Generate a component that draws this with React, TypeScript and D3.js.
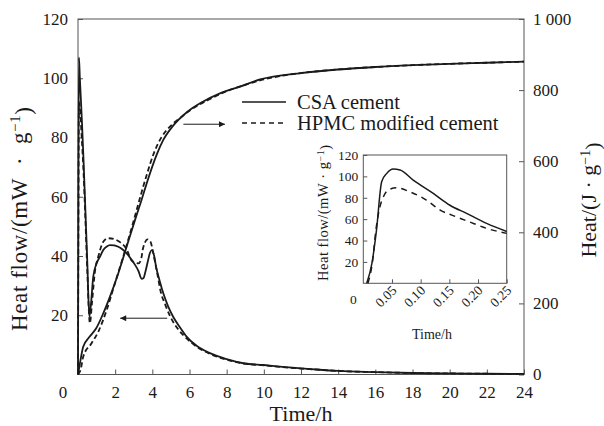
import { useEffect, useRef } from 'react';
import * as d3 from 'd3';

const W = 604;
const H = 426;

// Heat flow, CSA cement (solid), left axis
const hfCsaTime = [0, 0.02, 0.05, 0.1, 0.2, 0.3, 0.4, 0.5, 0.61, 0.7, 0.82, 1.0, 1.2, 1.36, 1.55, 1.72, 1.95, 2.17, 2.4, 2.62, 2.85, 3.07, 3.25, 3.42, 3.52, 3.62, 3.75, 3.87, 3.97, 4.1, 4.2, 4.4, 4.59, 4.85, 5.12, 5.5, 5.84, 6.4, 7.1, 8.0, 8.9, 10, 11, 12, 13, 14, 16, 18, 20, 22, 24];
const hfCsa = [0, 60, 107, 100, 87, 72, 55, 38, 19.5, 24, 33, 37.5, 40, 42, 43.2, 43.7, 43.6, 43.1, 42.2, 40.9, 39, 37, 35, 32.3, 32.5, 34.5, 38, 41, 42, 40, 36.4, 31.5, 27.4, 23, 19.5, 15.8, 12.8, 9.6, 7.2, 5.2, 3.8, 3.2, 2.6, 2.1, 1.6, 1.2, 0.8, 0.5, 0.35, 0.25, 0.2];

// Heat flow, HPMC modified cement (dashed), left axis
const hfHpmcTime = [0, 0.02, 0.05, 0.1, 0.2, 0.3, 0.4, 0.5, 0.64, 0.75, 0.91, 1.1, 1.36, 1.63, 1.99, 2.3, 2.6, 2.87, 3.05, 3.25, 3.38, 3.5, 3.62, 3.73, 3.9, 4.05, 4.16, 4.3, 4.43, 4.7, 4.97, 5.4, 5.84, 6.4, 7.1, 8.0, 8.9, 10, 11, 12, 13, 14, 16, 18, 20, 22, 24];
const hfHpmc = [0, 45, 92, 90, 80, 68, 52, 35, 17.3, 24, 34.7, 40, 44.8, 46, 45.6, 44.5, 42.5, 38.6, 37.8, 37.5, 38.5, 42.6, 44.8, 45.6, 44.8, 41, 37.5, 33, 28.5, 23.5, 19.5, 15.2, 12.2, 9.3, 7.0, 5.0, 3.7, 3.1, 2.5, 2.0, 1.6, 1.2, 0.8, 0.5, 0.35, 0.25, 0.2];

// Cumulative heat, CSA cement (solid), right axis
const heatCsaTime = [0, 0.1, 0.28, 0.62, 0.98, 1.36, 1.72, 2.17, 2.62, 3.07, 3.42, 3.79, 4.23, 4.59, 5.12, 5.84, 6.74, 7.64, 8.72, 9.8, 12, 14, 16, 18, 20, 22, 24];
const heatCsa = [0, 30, 78, 106, 130, 172, 219, 285, 360, 435, 491, 553, 618, 660, 700, 737, 768, 791, 810, 830, 848, 858, 865, 870, 874, 877, 880];

// Cumulative heat, HPMC modified cement (dashed), right axis
const heatHpmcTime = [0, 0.15, 0.28, 0.73, 1.09, 1.54, 1.99, 2.43, 2.88, 3.3, 3.7, 4.1, 4.5, 5.0, 5.5, 6.0, 7.0, 8.0, 9.0, 10, 12, 14, 16, 18, 20, 22, 24];
const heatHpmc = [0, 15, 50, 88, 120, 181, 257, 331, 411, 490, 562, 625, 668, 700, 722, 742, 772, 797, 815, 830, 848, 858, 865, 870, 874, 877, 880];

// Inset: first 0.25 h
const insetCsaTime = [0.006, 0.015, 0.023, 0.032, 0.041, 0.052, 0.064, 0.087, 0.122, 0.151, 0.18, 0.215, 0.25];
const insetCsa = [0, 18.7, 49.8, 95, 102.8, 106.8, 106, 96.5, 84, 73, 65.4, 56, 48.5];
const insetHpmcTime = [0.008, 0.016, 0.022, 0.029, 0.035, 0.046, 0.058, 0.081, 0.11, 0.134, 0.163, 0.192, 0.215, 0.25];
const insetHpmc = [0, 20, 50, 71.6, 81, 88, 89.3, 85.6, 77.8, 68.5, 62, 56, 51.4, 46.7];

const xTicks = [2, 4, 6, 8, 10, 12, 14, 16, 18, 20, 22, 24];
const hfTicks = [20, 40, 60, 80, 100, 120];
const heatTicks = [0, 200, 400, 600, 800, 1000];
const heatTickLabels = ['0', '200', '400', '600', '800', '1 000'];
const insetXTicks = [0.05, 0.10, 0.15, 0.20, 0.25];
const insetYTicks = [20, 40, 60, 80, 100, 120];
const legendLabels = ['CSA cement', 'HPMC modified cement'];

const FONT = 'Liberation Serif, DejaVu Serif, Times New Roman, serif';
const INK = '#1a1a1a';
const AXIS = '#555';
const NB = '\u00A0';

export default function App() {
  const svgRef = useRef<SVGSVGElement>(null);

  useEffect(() => {
    const svg = d3.select(svgRef.current);
    svg.selectAll('*').remove();

    const m = { left: 78, right: 524, top: 19, bottom: 374.5 };
    const x = d3.scaleLinear().domain([0, 24]).range([m.left, m.right]);
    const yHf = d3.scaleLinear().domain([0, 120]).range([m.bottom, m.top]);
    const yHeat = d3.scaleLinear().domain([0, 1000]).range([m.bottom, m.top]);

    const defs = svg.append('defs');
    defs.append('marker')
      .attr('id', 'arrow')
      .attr('viewBox', '0 0 10 10')
      .attr('refX', 10).attr('refY', 5)
      .attr('markerWidth', 9).attr('markerHeight', 6)
      .attr('markerUnits', 'userSpaceOnUse')
      .attr('orient', 'auto')
      .append('path').attr('d', 'M0,0 L10,5 L0,10 Z').attr('fill', INK);

    // frame
    svg.append('rect')
      .attr('x', m.left).attr('y', m.top)
      .attr('width', m.right - m.left).attr('height', m.bottom - m.top)
      .attr('fill', 'none').attr('stroke', AXIS).attr('stroke-width', 1);

    const styleAxis = (g: any, size: number) => {
      g.attr('font-family', FONT).attr('font-size', size);
      g.select('.domain').remove();
      g.selectAll('line').attr('stroke', AXIS);
      g.selectAll('text').attr('fill', INK);
    };

    svg.append('g')
      .attr('transform', `translate(0,${m.bottom})`)
      .call(d3.axisBottom(x).tickValues(xTicks).tickSizeInner(-5).tickSizeOuter(0).tickPadding(11))
      .call((g: any) => styleAxis(g, 17));

    svg.append('g')
      .attr('transform', `translate(${m.left},0)`)
      .call(d3.axisLeft(yHf).tickValues(hfTicks).tickSizeInner(-5).tickSizeOuter(0).tickPadding(10))
      .call((g: any) => styleAxis(g, 17));

    svg.append('g')
      .attr('transform', `translate(${m.right},0)`)
      .call(d3.axisRight(yHeat).tickValues(heatTicks).tickSizeInner(-5).tickSizeOuter(0).tickPadding(9)
        .tickFormat((_d: any, i: number) => heatTickLabels[i]))
      .call((g: any) => styleAxis(g, 17));

    const txt = (sel: any, size: number) =>
      sel.attr('font-family', FONT).attr('font-size', size).attr('fill', INK);

    // shared origin label
    txt(svg.append('text'), 17)
      .attr('x', m.left - 15).attr('y', 397.5)
      .attr('text-anchor', 'middle')
      .text('0');

    // axis titles
    txt(svg.append('text'), 22)
      .attr('x', (m.left + m.right) / 2).attr('y', 421)
      .attr('text-anchor', 'middle')
      .text('Time/h');

    const leftTitle = txt(svg.append('text'), 23)
      .attr('transform', `translate(27,219) rotate(-90)`)
      .attr('text-anchor', 'middle')
      .attr('textLength', 224).attr('lengthAdjust', 'spacing');
    leftTitle.append('tspan').text(`Heat flow/(mW${NB}${NB}·${NB}${NB}g`);
    leftTitle.append('tspan').attr('dy', '-0.45em').attr('font-size', 15).text('−1');
    leftTitle.append('tspan').attr('dy', '0.45em').text(')');

    const rightTitle = txt(svg.append('text'), 22)
      .attr('transform', `translate(596,200) rotate(-90)`)
      .attr('text-anchor', 'middle');
    rightTitle.append('tspan').text('Heat/(J · g');
    rightTitle.append('tspan').attr('dy', '-0.45em').attr('font-size', 14).text('−1');
    rightTitle.append('tspan').attr('dy', '0.45em').text(')');

    const pairs = (t: number[], v: number[]) => t.map((d, i) => [d, v[i]] as [number, number]);

    const hfLine = d3.line<[number, number]>()
      .x(d => x(d[0])).y(d => yHf(d[1])).curve(d3.curveMonotoneX);
    const heatLine = d3.line<[number, number]>()
      .x(d => x(d[0])).y(d => yHeat(d[1])).curve(d3.curveMonotoneX);

    const curves = [
      { d: hfLine(pairs(hfHpmcTime, hfHpmc)), dash: '5,3' },
      { d: heatLine(pairs(heatHpmcTime, heatHpmc)), dash: '5,3' },
      { d: hfLine(pairs(hfCsaTime, hfCsa)), dash: null },
      { d: heatLine(pairs(heatCsaTime, heatCsa)), dash: null },
    ];
    curves.forEach(c => {
      svg.append('path')
        .attr('d', c.d)
        .attr('fill', 'none')
        .attr('stroke', INK)
        .attr('stroke-width', 1.8)
        .attr('stroke-dasharray', c.dash);
    });

    // arrows pointing to the axis each curve belongs to
    svg.append('line')
      .attr('x1', x(4.8)).attr('y1', yHf(19)).attr('x2', x(2.27)).attr('y2', yHf(19))
      .attr('stroke', INK).attr('stroke-width', 1).attr('marker-end', 'url(#arrow)');
    svg.append('line')
      .attr('x1', x(5.67)).attr('y1', yHeat(704)).attr('x2', x(7.91)).attr('y2', yHeat(704))
      .attr('stroke', INK).attr('stroke-width', 1).attr('marker-end', 'url(#arrow)');

    // legend
    const legend = svg.append('g').attr('transform', 'translate(242,102)');
    legendLabels.forEach((label, i) => {
      const row = legend.append('g').attr('transform', `translate(0,${i * 21})`);
      row.append('line')
        .attr('x1', 0).attr('x2', 44).attr('y1', 0).attr('y2', 0)
        .attr('stroke', INK).attr('stroke-width', 1.5)
        .attr('stroke-dasharray', i === 0 ? null : '5,4');
      txt(row.append('text'), 20.5)
        .attr('x', 55).attr('y', 0).attr('dy', '0.33em')
        .text(label);
    });

    // inset
    const ins = { left: 363.3, right: 506.7, top: 155, bottom: 283.3 };
    const ix = d3.scaleLinear().domain([0, 0.25]).range([ins.left, ins.right]);
    const iy = d3.scaleLinear().domain([0, 120]).range([ins.bottom, ins.top]);

    svg.append('rect')
      .attr('x', ins.left).attr('y', ins.top)
      .attr('width', ins.right - ins.left).attr('height', ins.bottom - ins.top)
      .attr('fill', 'white').attr('stroke', AXIS).attr('stroke-width', 1);

    svg.append('g')
      .attr('transform', `translate(${ins.left},0)`)
      .call(d3.axisLeft(iy).tickValues(insetYTicks).tickSizeInner(-4).tickSizeOuter(0).tickPadding(5))
      .call((g: any) => styleAxis(g, 13.5));

    const ixAxis = svg.append('g')
      .attr('transform', `translate(0,${ins.bottom})`)
      .call(d3.axisBottom(ix).tickValues(insetXTicks).tickSizeInner(-4).tickSizeOuter(0)
        .tickFormat((d: any) => d3.format('.2f')(d)))
      .call((g: any) => styleAxis(g, 13.5));
    ixAxis.selectAll('text')
      .attr('y', 0).attr('dy', null)
      .attr('text-anchor', 'end')
      .attr('transform', 'translate(5,8) rotate(-45)');

    txt(svg.append('text'), 13.5)
      .attr('x', ins.left - 10).attr('y', 304)
      .attr('text-anchor', 'middle')
      .text('0');

    txt(svg.append('text'), 14)
      .attr('x', (ins.left + ins.right) / 2 - 3).attr('y', 339)
      .attr('text-anchor', 'middle')
      .text('Time/h');

    const insTitle = txt(svg.append('text'), 14.5)
      .attr('transform', `translate(328,213) rotate(-90)`)
      .attr('text-anchor', 'middle')
      .attr('textLength', 136).attr('lengthAdjust', 'spacing');
    insTitle.append('tspan').text(`Heat flow/(mW${NB}·${NB}g`);
    insTitle.append('tspan').attr('dy', '-0.45em').attr('font-size', 10).text('−1');
    insTitle.append('tspan').attr('dy', '0.45em').text(')');

    const insLine = d3.line<[number, number]>()
      .x(d => ix(d[0])).y(d => iy(d[1])).curve(d3.curveMonotoneX);

    svg.append('path')
      .attr('d', insLine(pairs(insetHpmcTime, insetHpmc)))
      .attr('fill', 'none').attr('stroke', INK).attr('stroke-width', 1.5)
      .attr('stroke-dasharray', '6,5');
    svg.append('path')
      .attr('d', insLine(pairs(insetCsaTime, insetCsa)))
      .attr('fill', 'none').attr('stroke', INK).attr('stroke-width', 1.5);
  }, []);

  return (
    <svg
      ref={svgRef}
      width={W}
      height={H}
      style={{ position: 'absolute', left: 0, top: 0, background: 'white' }}
    />
  );
}
